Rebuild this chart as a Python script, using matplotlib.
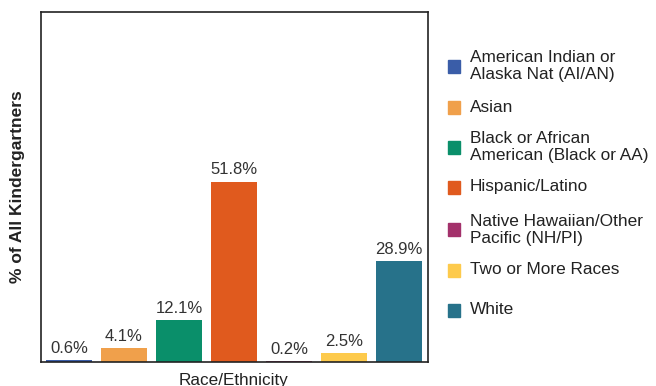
import matplotlib
matplotlib.use("Agg")
import matplotlib.pyplot as plt
from matplotlib.patches import Rectangle

categories = ["American Indian or\nAlaska Nat (AI/AN)", "Asian",
              "Black or African\nAmerican (Black or AA)", "Hispanic/Latino",
              "Native Hawaiian/Other\nPacific (NH/PI)", "Two or More Races", "White"]
values = [0.6, 4.1, 12.1, 51.8, 0.2, 2.5, 28.9]
value_labels = ["0.6%", "4.1%", "12.1%", "51.8%", "0.2%", "2.5%", "28.9%"]
colors = ["#3a5da8", "#f0a04b", "#0a8f6a", "#e05a1e", "#a3316b", "#fdca4c", "#27728a"]

plt.rcParams['font.family'] = ['Liberation Sans', 'DejaVu Sans']

fig = plt.figure(figsize=(6.56, 3.86), dpi=100)
ax = fig.add_axes([41/656, 24/386, 387/656, 350/386])

x = list(range(len(values)))
ax.bar(x, values, width=0.84, color=colors)
for xi, v, lab in zip(x, values, value_labels):
    ax.text(xi, v + 1.2, lab, ha='center', va='bottom', fontsize=12, color='#333333')

ax.set_xlim(-0.51, 6.53)
ax.set_ylim(0, 100.5)
ax.set_xticks([])
ax.set_yticks([])
for s in ax.spines.values():
    s.set_color('#222222')
    s.set_linewidth(1.2)

fig.text(18/656, 1 - 187/386, "% of All Kindergartners", rotation=90, ha='center', va='center',
         fontsize=12.5, fontweight='bold', color='#222222')
fig.text(234/656, 1 - 380/386, "Race/Ethnicity", ha='center', va='center', fontsize=12.3, color='#222222')

centers = [66, 107, 147, 187, 230, 270, 310]
for yc, lab, c in zip(centers, categories, colors):
    fig.patches.append(Rectangle((448/656, 1 - (yc + 6.5)/386), 12/656, 13/386,
                                 transform=fig.transFigure, color=c, figure=fig))
    fig.text(470/656, 1 - yc/386, lab, ha='left', va='center', fontsize=12.4,
             color='#222222', linespacing=1.12)

fig.savefig("out.png", dpi=100)
